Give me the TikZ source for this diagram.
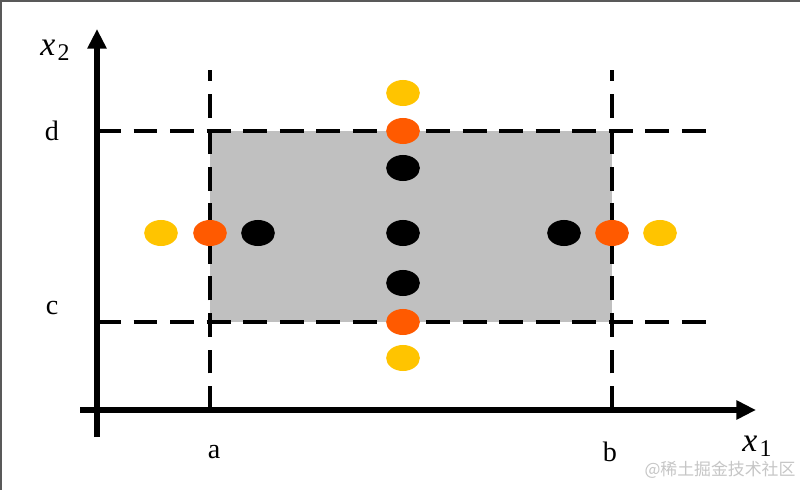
\documentclass[tikz,border=0pt]{standalone}
\usepackage{fontspec}
\setmainfont{Liberation Serif}
\newfontfamily\cjkfont{Noto Sans CJK SC}
\usetikzlibrary{arrows.meta,shapes.geometric}
\definecolor{dotyellow}{HTML}{FFC400}
\definecolor{dotorange}{HTML}{FF5A00}
\definecolor{boxgray}{HTML}{C0C0C0}
\newcommand{\axlabel}[2]{{\fontsize{24}{28}\selectfont\itshape #1}\kern1.5pt\raisebox{-0.75ex}{\fontsize{17}{20}\selectfont #2}}
\tikzset{
  axisline/.style={line width=3.6pt,-{Triangle[length=14pt,width=13pt]}},
  boundline/.style={line width=2.2pt,dash pattern=on 17pt off 9pt},
  dot/.style={ellipse,minimum width=24pt,minimum height=18.5pt,inner sep=0pt},
  ydot/.style={dot,fill=dotyellow},
  odot/.style={dot,fill=dotorange},
  kdot/.style={dot,fill=black},
  lbl/.style={font=\fontsize{20}{24}\selectfont}
}
\begin{document}
\begin{tikzpicture}[x=0.025cm,y=-0.025cm]
  \useasboundingbox (0,0) rectangle (800,490);
  \fill[white] (0,0) rectangle (800,490);
  \draw[line width=2pt,gray!70!black] (1,490) -- (1,1) -- (800,1);
  % region
  \fill[boxgray] (210,131) rectangle (612,322);
  % bounds
  \coordinate (aTop) at (210,70);
  \coordinate (aBot) at (210,410);
  \coordinate (bTop) at (612,70);
  \coordinate (bBot) at (612,410);
  \coordinate (dL) at (97,131);
  \coordinate (dR) at (706,131);
  \coordinate (cL) at (97,322);
  \coordinate (cR) at (706,322);
  \draw[boundline] (aBot) -- (aTop);
  \draw[boundline] (bBot) -- (bTop);
  \draw[boundline] (dL) -- (dR);
  \draw[boundline] (cL) -- (cR);
  % axes
  \coordinate (yStart) at (97,437);
  \coordinate (yEnd) at (97,29);
  \coordinate (xStart) at (80,410);
  \coordinate (xEnd) at (756,410);
  \draw[axisline] (yStart) -- (yEnd);
  \draw[axisline] (xStart) -- (xEnd);
  % labels
  \node[inner sep=0pt] (lx2) at (55,50) {\axlabel{x}{2}};
  \node[inner sep=0pt] (lx1) at (757,446) {\axlabel{x}{1}};
  \node[lbl] (ld) at (52,131) {d};
  \node[lbl] (lc) at (52,308) {c};
  \node[lbl] (la) at (214,452) {a};
  \node[lbl] (lb) at (610,452) {b};
  % points
  \node[ydot] (yT) at (403,93) {};
  \node[odot] (oT) at (403,131) {};
  \node[kdot] (kT) at (403,168) {};
  \node[kdot] (kC) at (403,233) {};
  \node[kdot] (kB) at (403,283) {};
  \node[odot] (oB) at (403,322) {};
  \node[ydot] (yB) at (403,358) {};
  \node[ydot] (yL) at (161,233) {};
  \node[odot] (oL) at (210,233) {};
  \node[kdot] (kL) at (258,233) {};
  \node[kdot] (kR) at (564,233) {};
  \node[odot] (oR) at (612,233) {};
  \node[ydot] (yR) at (660,233) {};
  % watermark
  \node[text=gray!45,font=\cjkfont\fontsize{12}{14}\selectfont] (wm) at (720,470) {@稀土掘金技术社区};
\end{tikzpicture}
\end{document}
